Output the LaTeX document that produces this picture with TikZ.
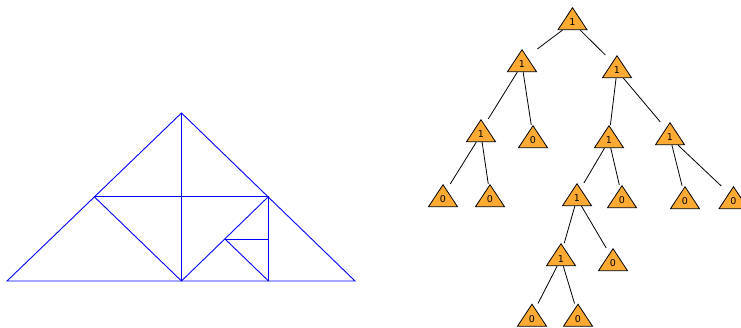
\documentclass[tikz,border=0pt]{standalone}
\usepackage{fontspec}
\setmainfont{DejaVu Sans}
\usetikzlibrary{shapes.geometric,calc}
\definecolor{triorange}{HTML}{FFAA33}
\tikzset{
  x=1pt,y=-1pt,
  tri/.style={isosceles triangle,isosceles triangle apex angle=67,isosceles triangle stretches,shape border rotate=90,
    minimum width=29pt,minimum height=22pt,inner sep=0pt,draw=black,fill=triorange,line width=0.8pt,line join=miter,anchor=apex,font=\fontsize{9.5}{10}\selectfont},
  geo/.style={draw=blue,line width=0.9pt},
  link/.style={draw=black,line width=0.8pt}
}
\newcommand{\treelink}[2]{%
  \draw[link] (#1) -- (intersection cs: first line={(#1)--($(#2.apex)!.5!(#2.lower side)$)}, second line={(#2.apex)--([xshift=10pt]#2.apex)});}
\begin{document}
\begin{tikzpicture}
\useasboundingbox (0,0) rectangle (741,328);
% left figure
\coordinate (A) at (7,281);
\coordinate (B) at (355,281);
\coordinate (C) at (181.5,113);
\coordinate (D) at (181.5,281);
\coordinate (E) at (94,196.5);
\coordinate (F) at (268.5,196.5);
\coordinate (G) at (268.5,281);
\coordinate (H) at (225,239);
\coordinate (I) at (268.5,239);
\draw[geo] (A) -- (B) -- (C) -- cycle;
\draw[geo] (C) -- (D);
\draw[geo] (E) -- (F);
\draw[geo] (E) -- (D);
\draw[geo] (D) -- (F);
\draw[geo] (F) -- (G);
\draw[geo] (H) -- (I);
\draw[geo] (H) -- (G);
% tree
\node[tri] (r) at (572.5,7) {1};
\node[tri] (a) at (522,49) {1};
\node[tri] (b) at (617,55) {1};
\node[tri] (aa) at (481,119) {1};
\node[tri] (ab) at (533,125) {0};
\node[tri] (ba) at (609,125) {1};
\node[tri] (bb) at (670,122) {1};
\node[tri] (aaa) at (443,184) {0};
\node[tri] (aab) at (490,184) {0};
\node[tri] (baa) at (577,183) {1};
\node[tri] (bab) at (622,185) {0};
\node[tri] (bba) at (685,186) {0};
\node[tri] (bbb) at (733.5,186) {0};
\node[tri] (baaa) at (561,243) {1};
\node[tri] (baab) at (613,248) {0};
\node[tri] (baaaa) at (532,303.5) {0};
\node[tri] (baaab) at (578,303.5) {0};
\treelink{r}{a}
\treelink{r}{b}
\treelink{a}{aa}
\treelink{a}{ab}
\treelink{b}{ba}
\treelink{b}{bb}
\treelink{aa}{aaa}
\treelink{aa}{aab}
\treelink{ba}{baa}
\treelink{ba}{bab}
\treelink{bb}{bba}
\treelink{bb}{bbb}
\treelink{baa}{baaa}
\treelink{baa}{baab}
\treelink{baaa}{baaaa}
\treelink{baaa}{baaab}
\end{tikzpicture}
\end{document}
